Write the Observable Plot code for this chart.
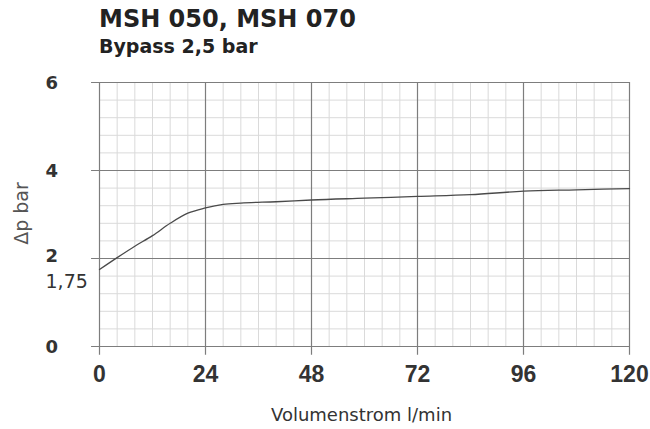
<!DOCTYPE html>
<html>
<head>
<meta charset="utf-8">
<script src="https://cdn.jsdelivr.net/npm/d3@7"></script>
<script src="https://cdn.jsdelivr.net/npm/@observablehq/plot@0.6"></script>
<style>
  html, body { margin: 0; padding: 0; background: #fff; }
  #wrap { position: relative; width: 650px; height: 429px; }
  #title { position: absolute; left: 99px; top: 7px; font: bold 24px/1 "DejaVu Sans", sans-serif; color: #222; white-space: nowrap; }
  #subtitle { position: absolute; left: 99px; top: 37px; font: bold 19px/1 "DejaVu Sans", sans-serif; color: #222; white-space: nowrap; }
  #chart { position: absolute; left: 0; top: 0; }
</style>
</head>
<body>
<div id="wrap">
  <div id="chart"></div>
  <div id="title">MSH 050, MSH 070</div>
  <div id="subtitle">Bypass 2,5 bar</div>
</div>
<script>
// Data
const flow = [0, 4, 8, 12, 16, 20, 24, 28, 32, 40, 48, 60, 72, 84, 96, 108, 120];
const dp   = [1.75, 2.02, 2.28, 2.52, 2.80, 3.03, 3.15, 3.23, 3.26, 3.29, 3.33, 3.37, 3.41, 3.45, 3.53, 3.56, 3.59];

const xMajorTicks = [0, 24, 48, 72, 96, 120];
const yMajorTicks = [0, 2, 4, 6];
const xMinorTicks = [0, 4, 8, 12, 16, 20, 24, 28, 32, 36, 40, 44, 48, 52, 56, 60, 64, 68, 72, 76, 80, 84, 88, 92, 96, 100, 104, 108, 112, 116, 120];
const yMinorTicks = [0, 0.4, 0.8, 1.2, 1.6, 2, 2.4, 2.8, 3.2, 3.6, 4, 4.4, 4.8, 5.2, 5.6, 6];
const yLabelsA = [0, 4, 6];
const yLabelsB = [2];
const yExtraLabel = [{y: 1.75, label: "1,75"}];

const xTitle = "Volumenstrom l/min";
const yTitle = "Δp bar";

const data = flow.map((x, i) => ({x, y: dp[i]}));

const majorColor = "#7d7d7d";
const minorColor = "#dadada";

const chart = Plot.plot({
  width: 650,
  height: 429,
  marginLeft: 99,
  marginRight: 21,
  marginTop: 82,
  marginBottom: 83,
  x: {domain: [0, 120], axis: null},
  y: {domain: [0, 6], axis: null},
  style: {fontFamily: "DejaVu Sans, sans-serif", background: "#fff"},
  marks: [
    Plot.ruleX(xMinorTicks, {x: d => d, stroke: minorColor, strokeWidth: 1}),
    Plot.ruleY(yMinorTicks, {y: d => d, stroke: minorColor, strokeWidth: 1}),
    Plot.ruleX(xMajorTicks, {x: d => d, y1: -0.2, y2: 6, stroke: majorColor, strokeWidth: 1.2}),
    Plot.ruleY(yMajorTicks, {y: d => d, x1: -1.8, x2: 120, stroke: majorColor, strokeWidth: 1.2}),
    Plot.line(data, {x: "x", y: "y", curve: "monotone-x", stroke: "#4a4a4a", strokeWidth: 1.3}),
    Plot.text(xMajorTicks, {x: d => d, frameAnchor: "bottom", lineAnchor: "middle", dy: 28, text: d => String(d), fontWeight: "bold", fontSize: 23, fill: "#333", fontFamily: "Arial, Liberation Sans, Helvetica, Roboto, sans-serif"}),
    Plot.text(yLabelsA, {y: d => d, frameAnchor: "left", lineAnchor: "middle", dx: -54, dy: 1, textAnchor: "start", text: d => String(d), fontWeight: "bold", fontSize: 18, fill: "#333"}),
    Plot.text(yLabelsB, {y: d => d, frameAnchor: "left", lineAnchor: "middle", dx: -54, dy: -2, textAnchor: "start", text: d => String(d), fontWeight: "bold", fontSize: 18, fill: "#333"}),
    Plot.text(yExtraLabel, {y: "y", text: "label", frameAnchor: "left", lineAnchor: "middle", dx: -54, dy: 12, textAnchor: "start", fontSize: 19, fill: "#333"}),
    Plot.text([xTitle], {frameAnchor: "bottom", lineAnchor: "middle", dx: -3, dy: 69, text: d => d, fontSize: 18, fill: "#333"}),
    Plot.text([yTitle], {frameAnchor: "left", dx: -78, dy: -1, rotate: -90, textAnchor: "middle", text: d => d, fontSize: 19, fill: "#555"})
  ]
});
document.getElementById("chart").appendChild(chart);
</script>
</body>
</html>
